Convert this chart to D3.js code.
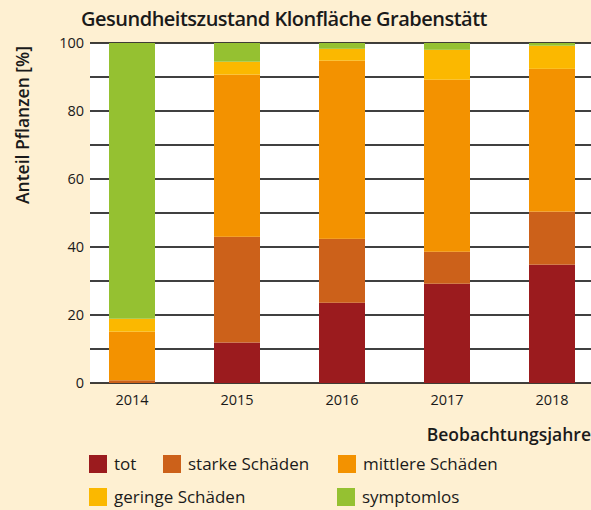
<!DOCTYPE html>
<html>
<head>
<meta charset="utf-8">
<script src="https://cdn.jsdelivr.net/npm/d3@7"></script>
<style>
  body { margin: 0; background: #fef0d2; }
  svg { display: block; font-family: "Open Sans", "Noto Sans", sans-serif; }
</style>
</head>
<body>
<svg width="591" height="510"></svg>
<script>
  // DATA

  var years = ["2014", "2015", "2016", "2017", "2018"];
  var categories = ["tot", "starke Schäden", "mittlere Schäden", "geringe Schäden", "symptomlos"];
  var tot = [0, 11.9, 23.6, 29.2, 34.8];
  var starke = [0.8, 31.1, 18.8, 9.4, 15.6];
  var mittlere = [14.3, 47.7, 52.4, 50.6, 42.0];
  var geringe = [3.8, 3.8, 3.5, 8.8, 6.8];
  var symptomlos = [81.1, 5.5, 1.7, 2.0, 0.8];
  var colors = ["#9b1b1e", "#cc611a", "#f39200", "#fbb800", "#95c131"];
  var yTicks = [0, 20, 40, 60, 80, 100];

  var series = [tot, starke, mittlere, geringe, symptomlos];
  var table = years.map(function (yr, i) {
    var row = { year: yr };
    categories.forEach(function (c, k) { row[c] = series[k][i]; });
    return row;
  });

  // SETUP

  var svg = d3.select("svg"),
    plotLeft = 90, plotRight = 591, plotTop = 43, plotBottom = 383;

  var x = d3.scaleBand()
    .domain(years)
    .range([79.5, 604.5])
    .paddingInner(0.562)
    .paddingOuter(0.281);

  var y = d3.scaleLinear().domain([0, 100]).range([plotBottom, plotTop]);

  // plot background
  svg.append("rect")
    .attr("x", plotLeft).attr("y", plotTop)
    .attr("width", plotRight - plotLeft).attr("height", plotBottom - plotTop)
    .attr("fill", "#fff");

  // grid lines every 10
  svg.append("g")
    .selectAll("line")
    .data(d3.range(0, 101, 10))
    .enter().append("line")
    .attr("x1", plotLeft).attr("x2", plotRight)
    .attr("y1", function (d) { return y(d); })
    .attr("y2", function (d) { return y(d); })
    .attr("stroke", "#000")
    .attr("stroke-width", 1.6);

  // y labels
  var yAxis = svg.append("g")
    .attr("transform", "translate(" + plotLeft + ",0)")
    .call(d3.axisLeft(y).tickValues(yTicks).tickSize(0).tickPadding(6));
  yAxis.select(".domain").remove();
  yAxis.selectAll("text")
    .attr("font-size", 14.5)
    .attr("font-family", "Open Sans")
    .attr("fill", "#1a1a1a");

  // STACKED BARS

  var stack = d3.stack().keys(categories)(table);

  svg.append("g")
    .selectAll("g")
    .data(stack)
    .enter().append("g")
    .attr("fill", function (d, i) { return colors[i]; })
    .selectAll("rect")
    .data(function (d) { return d; })
    .enter().append("rect")
    .attr("x", function (d) { return x(d.data.year); })
    .attr("y", function (d) { return y(d[1]); })
    .attr("width", x.bandwidth())
    .attr("height", function (d) { return y(d[0]) - y(d[1]); });

  // x labels
  var xAxis = svg.append("g")
    .attr("transform", "translate(0," + plotBottom + ")")
    .call(d3.axisBottom(x).tickSize(0).tickPadding(12));
  xAxis.select(".domain").remove();
  xAxis.selectAll("text")
    .attr("font-size", 14.5)
    .attr("font-family", "Open Sans")
    .attr("fill", "#1a1a1a");

  // TITLES

  svg.append("text")
    .attr("x", 284).attr("y", 26)
    .attr("text-anchor", "middle")
    .attr("font-size", 20)
    .attr("font-weight", 600)
    .attr("letter-spacing", -0.5)
    .attr("fill", "#1a1a1a")
    .text("Gesundheitszustand Klonfläche Grabenstätt");

  svg.append("text")
    .attr("transform", "translate(29,125) rotate(-90)")
    .attr("text-anchor", "middle")
    .attr("font-size", 17.5)
    .attr("font-weight", 600)
    .attr("fill", "#1a1a1a")
    .text("Anteil Pflanzen [%]");

  svg.append("text")
    .attr("x", 591).attr("y", 441)
    .attr("text-anchor", "end")
    .attr("font-size", 17.5)
    .attr("font-weight", 600)
    .attr("fill", "#1a1a1a")
    .text("Beobachtungsjahre");

  // LEGEND

  var legendPos = [[89, 455], [163, 455], [338, 455], [89, 488], [337, 488]];

  var items = svg.append("g")
    .selectAll("g")
    .data(categories)
    .enter().append("g")
    .attr("transform", function (d, i) { return "translate(" + legendPos[i][0] + "," + legendPos[i][1] + ")"; });

  items.append("rect")
    .attr("width", 18).attr("height", 18)
    .attr("fill", function (d, i) { return colors[i]; });

  items.append("text")
    .attr("x", 25).attr("y", 15)
    .attr("font-size", 17)
    .attr("fill", "#1a1a1a")
    .text(function (d) { return d; });
</script>
</body>
</html>
